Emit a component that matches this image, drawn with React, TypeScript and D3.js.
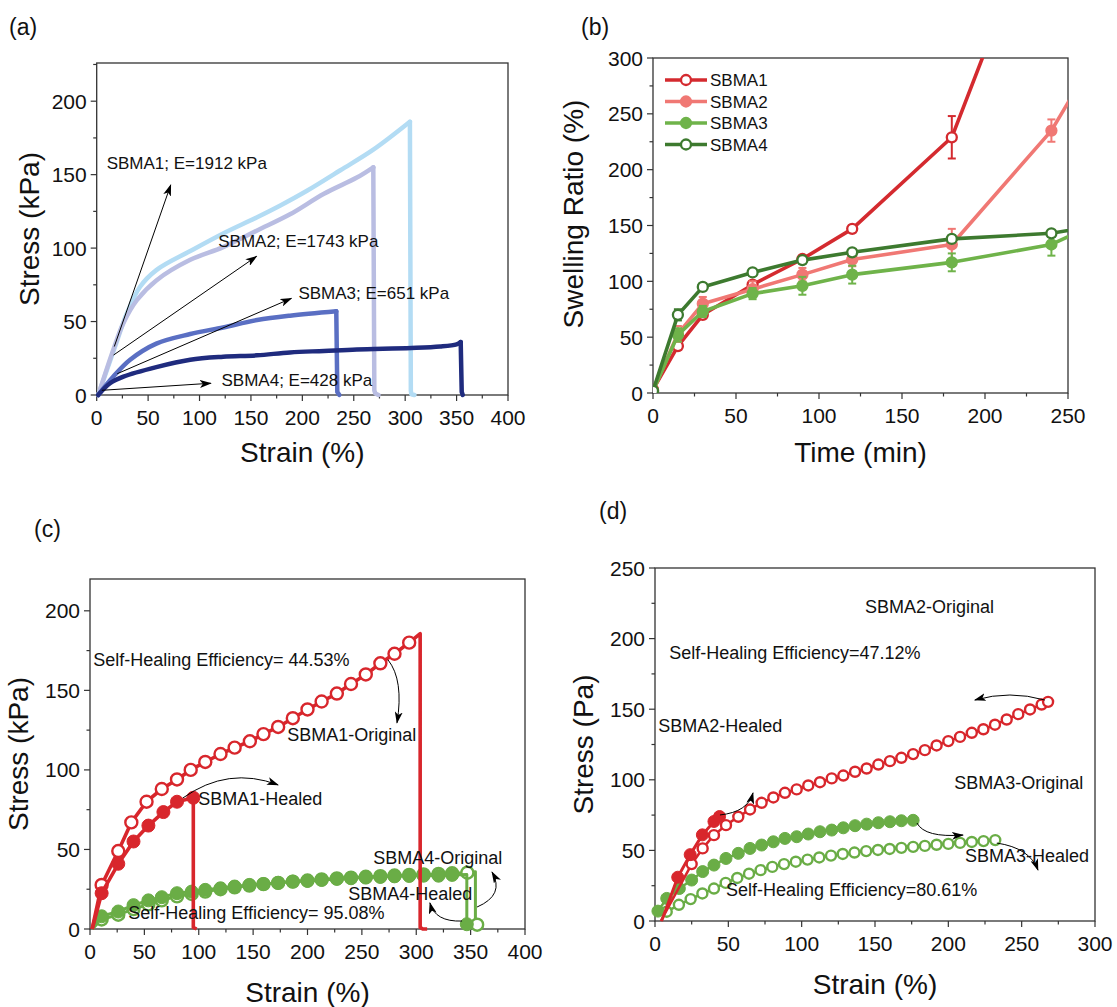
import React from "react";
import * as d3 from "d3";

const FONT = "'Liberation Sans', Arial, Helvetica, sans-serif";
type P = [number, number];
type PM = [number, number, number]; // x, y, marker flag

// ---------------- Panel (a): stress-strain ----------------
const aNames = ["SBMA1", "SBMA2", "SBMA3", "SBMA4"];
const aModulus = ["1912", "1743", "651", "428"];
const aS1Rise: P[] = [[1.5, 0], [17.9, 33], [29, 55], [42, 73.5], [58, 85], [91, 98], [123, 110], [156, 121], [178.6, 129], [204.5, 139], [237, 153], [269, 167], [304.6, 186]];
const aS1Drop: P[] = [[304.6, 186], [305.5, 3], [306, 0.5], [309, 0]];
const aS2Rise: P[] = [[1.5, 0], [16, 30.5], [26, 49], [39, 64.5], [58, 78], [91, 92], [123, 100.7], [156, 112], [188, 123], [221, 137], [253, 148], [269, 155]];
const aS2Drop: P[] = [[269, 155], [270, 3], [271, 1], [274, 0]];
const aS3Rise: P[] = [[1.5, 0], [16, 12.4], [32.5, 24], [58, 35], [91, 41.5], [123, 46], [156, 51], [188, 54], [233, 57]];
const aS3Drop: P[] = [[233, 57], [234, 2], [236, 0]];
const aS4Rise: P[] = [[1.5, 0], [13, 8], [26, 12.5], [58, 19], [91, 24], [123, 26], [156, 27], [188, 29], [221, 30], [253, 31], [306, 32], [334, 33], [350, 34.5], [354, 36]];
const aS4Drop: P[] = [[354, 36], [355, 2], [356, 0]];
const aColors = ["#b3dcf4", "#b9bde2", "#5a6fc3", "#1f2b7e"];
const aXTicks = [0, 50, 100, 150, 200, 250, 300, 350, 400];
const aYTicks = [0, 50, 100, 150, 200];

// ---------------- Panel (b): swelling ----------------
const bNames = ["SBMA1", "SBMA2", "SBMA3", "SBMA4"];
const bTime = [0, 15, 30, 60, 90, 120, 180, 240, 300];
const bS1 = [3, 42, 70, 97, 120, 147, 229, 460];
const bS1Err = [0, 3, 3, 3, 3, 3, 19, 0];
const bS2 = [2, 53, 80, 93, 106, 119.5, 133, 235, 384];
const bS2Err = [0, 7, 6, 7, 6, 6, 14, 10, 0];
const bS3 = [2, 52, 73, 89, 96, 106, 117, 133, 174];
const bS3Err = [0, 6, 5, 5, 8, 8, 8, 10, 0];
const bS4 = [2, 70, 95, 108, 119, 126, 138, 143, 158];
const bS4Err = [0, 5, 3, 3, 3, 3, 3, 3, 0];
const bColors = ["#d42a2f", "#f07874", "#6fb34a", "#3d7a2f"];
const bOpen = [true, false, false, true];
const bXTicks = [0, 50, 100, 150, 200, 250];
const bYTicks = [0, 50, 100, 150, 200, 250, 300];

// ---------------- Panel (c): SBMA1 / SBMA4 healing ----------------
const cS1Orig: PM[] = [[2, 0, 0], [10.7, 27.7, 1], [26, 49, 1], [38, 67, 1], [52, 80, 1], [66, 88, 1], [80, 94, 1], [92.6, 100, 1], [106, 105, 1], [120, 110, 1], [133, 114, 1], [147, 118, 1], [159.5, 122.5, 1], [173, 127, 1], [186.5, 132.5, 1], [200, 138, 1], [213, 143, 1], [227, 148, 1], [240, 154, 1], [253.6, 160, 1], [267, 167, 1], [280, 173, 1], [293.5, 180, 1], [303.6, 185.6, 0], [303.6, 1, 0], [306, 0, 0], [310, 0, 0]];
const cS1Heal: PM[] = [[2, 0, 0], [10.7, 22.5, 1], [26, 41, 1], [40, 55, 1], [53.7, 65, 1], [67.5, 73.5, 1], [80, 80, 1], [95, 82.5, 1], [95, 1, 0], [98, 0, 0]];
const cS4Orig: PM[] = [[2, 0, 0], [10.7, 6, 1], [26, 9, 1], [40, 12.5, 1], [53.7, 15.5, 1], [66, 18, 1], [80, 20.5, 1], [93.5, 22, 1], [106, 23.5, 1], [120, 25, 1], [133, 26.2, 1], [146.6, 27.3, 1], [159.5, 28.2, 1], [173, 29, 1], [186.5, 29.8, 1], [200, 30.5, 1], [213, 31.2, 1], [227, 31.8, 1], [240, 32.3, 1], [253.6, 32.8, 1], [267, 33.2, 1], [280, 33.6, 1], [293.5, 34, 1], [306.7, 34.3, 1], [320.5, 34.6, 1], [333, 35, 1], [347, 35.4, 1], [354.4, 36, 0], [354.4, 3, 0], [356, 2.7, 1]];
const cS4Heal: PM[] = [[2, 0, 0], [10.7, 8, 1], [26, 11, 1], [40, 15, 1], [53.7, 18, 1], [66, 20, 1], [80, 22.5, 1], [93.5, 23.5, 1], [106, 24.6, 1], [120, 25.6, 1], [133, 26.7, 1], [146.6, 27.7, 1], [159.5, 28.3, 1], [173, 29, 1], [186.5, 29.8, 1], [200, 30.2, 1], [213, 30.8, 1], [227, 31.5, 1], [240, 31.9, 1], [253.6, 32.3, 1], [267, 32.7, 1], [280, 33.1, 1], [293.5, 33.3, 1], [306.7, 33.5, 1], [320.5, 33.5, 1], [333, 34, 1], [346.5, 34.3, 0], [346.5, 3, 1]];
const cXTicks = [0, 50, 100, 150, 200, 250, 300, 350, 400];
const cYTicks = [0, 50, 100, 150, 200];

// ---------------- Panel (d): SBMA2 / SBMA3 healing ----------------
const dS2Orig: PM[] = [[4, 0, 0], [25, 40.3, 1], [32.5, 51.4, 1], [40.2, 60.8, 1], [48.4, 67.9, 1], [56.8, 73.8, 1], [64.8, 79, 1], [72.7, 83.7, 1], [80.7, 87.5, 1], [88.6, 90.8, 1], [96.6, 93.2, 1], [104.5, 96, 1], [112.5, 98.3, 1], [120.5, 101, 1], [128.4, 103, 1], [136.4, 105.7, 1], [144.3, 108, 1], [152.3, 110.8, 1], [160.2, 113.2, 1], [168, 115.6, 1], [176, 118.2, 1], [184, 121, 1], [192, 124.3, 1], [200, 127.4, 1], [208, 130.4, 1], [216, 133.3, 1], [223.9, 135.8, 1], [231.8, 139, 1], [239.8, 142.7, 1], [247.7, 146.5, 1], [255.7, 149.8, 1], [263.6, 153.3, 1], [268, 155.2, 1]];
const dS2Heal: PM[] = [[4.5, 0, 0], [15.5, 31, 1], [24, 47, 1], [32.3, 61, 1], [40.2, 70.5, 1], [44, 74, 1]];
const dS3Orig: PM[] = [[2, 7, 1], [8, 16, 1], [16.6, 23, 1], [25, 29, 1], [32.5, 35, 1], [40.2, 39.6, 1], [48.4, 44.3, 1], [56.8, 47.9, 1], [64.8, 51.4, 1], [72.7, 53.8, 1], [80.7, 56.1, 1], [88.6, 58.5, 1], [96.6, 59.7, 1], [104.5, 61.6, 1], [112.5, 63.2, 1], [120.5, 64.4, 1], [128.4, 66, 1], [136.4, 67.5, 1], [144.3, 68.6, 1], [152.3, 69.6, 1], [160.2, 70.3, 1], [168, 71, 1], [176, 71.3, 1]];
const dS3Heal: PM[] = [[8, 6.6, 1], [16.3, 11.5, 1], [24.3, 15.5, 1], [32.3, 19.5, 1], [40.2, 23, 1], [48.2, 27, 1], [56.1, 30.5, 1], [64.1, 33.5, 1], [72, 36, 1], [80, 38.3, 1], [88, 40.3, 1], [96, 42, 1], [104, 43.5, 1], [112, 45, 1], [120, 46.3, 1], [128, 47.5, 1], [136, 48.5, 1], [144, 49.5, 1], [152, 50.3, 1], [160, 51, 1], [168, 51.8, 1], [176, 52.5, 1], [184, 53.2, 1], [192, 54, 1], [200, 54.6, 1], [208, 55.3, 1], [216, 56, 1], [224, 56.6, 1], [232, 57.3, 1]];
const dXTicks = [0, 50, 100, 150, 200, 250, 300];
const dYTicks = [0, 50, 100, 150, 200, 250];

const RED = "#d8262c";
const GREEN = "#6aad46";
const AXIS = "#333333";

type Lin = d3.ScaleLinear<number, number>;

function Frame({ x, y, xTicks, yTicks, xMinor, yMinor }: { x: Lin; y: Lin; xTicks: number[]; yTicks: number[]; xMinor: number[]; yMinor: number[] }) {
  const [xa, xb] = x.range();
  const [ya, yb] = y.range();
  return (
    <g fontFamily={FONT} fill="#111">
      {xMinor.map((t) => (
        <line key={"xm" + t} x1={x(t)} x2={x(t)} y1={ya} y2={ya + 3.5} stroke={AXIS} strokeWidth={1.2} />
      ))}
      {yMinor.map((t) => (
        <line key={"ym" + t} x1={xa - 3.5} x2={xa} y1={y(t)} y2={y(t)} stroke={AXIS} strokeWidth={1.2} />
      ))}
      {xTicks.map((t) => (
        <g key={"xt" + t}>
          <line x1={x(t)} x2={x(t)} y1={ya} y2={ya + 6} stroke={AXIS} strokeWidth={1.2} />
          <text x={x(t)} y={ya + 30} textAnchor="middle" fontSize={21}>{t}</text>
        </g>
      ))}
      {yTicks.map((t) => (
        <g key={"yt" + t}>
          <line x1={xa - 6} x2={xa} y1={y(t)} y2={y(t)} stroke={AXIS} strokeWidth={1.2} />
          <text x={xa - 10} y={y(t) + 7.5} textAnchor="end" fontSize={21}>{t}</text>
        </g>
      ))}
      <rect x={xa} y={yb} width={xb - xa} height={ya - yb} fill="none" stroke={AXIS} strokeWidth={1.3} />
    </g>
  );
}

function minorOf(max: number) {
  return d3.range(25, max, 50);
}

export default function App() {
  const ax = d3.scaleLinear().domain([0, 400]).range([96.7, 508]);
  const ay = d3.scaleLinear().domain([0, 226]).range([395, 63]);
  const bx = d3.scaleLinear().domain([0, 250]).range([653, 1068]);
  const by = d3.scaleLinear().domain([0, 300]).range([393, 58]);
  const cx = d3.scaleLinear().domain([0, 400]).range([90, 525]);
  const cy = d3.scaleLinear().domain([0, 220]).range([929, 579]);
  const dx = d3.scaleLinear().domain([0, 300]).range([655, 1095]);
  const dy = d3.scaleLinear().domain([0, 250]).range([921, 568]);

  const lineOf = (sx: Lin, sy: Lin, curve?: d3.CurveFactory) => {
    const g = d3.line<number[]>().x((d) => sx(d[0])).y((d) => sy(d[1]));
    if (curve) g.curve(curve);
    return g;
  };

  const aRise = [aS1Rise, aS2Rise, aS3Rise, aS4Rise];
  const aDrop = [aS1Drop, aS2Drop, aS3Drop, aS4Drop];
  const aLineC = lineOf(ax, ay, d3.curveCatmullRom.alpha(0.5));
  const aLineL = lineOf(ax, ay);

  const bVals = [bS1, bS2, bS3, bS4];
  const bErrs = [bS1Err, bS2Err, bS3Err, bS4Err];
  const bLine = lineOf(bx, by);

  const cLine = lineOf(cx, cy);
  const dLine = lineOf(dx, dy);

  const arrowPath = (sx: Lin, sy: Lin, p: number[]) =>
    p.length === 4
      ? `M${sx(p[0])},${sy(p[1])}L${sx(p[2])},${sy(p[3])}`
      : `M${sx(p[0])},${sy(p[1])}Q${sx(p[2])},${sy(p[3])} ${sx(p[4])},${sy(p[5])}`;

  const aArrows = [
    [17.1, 33, 72, 143],
    [16.4, 27.2, 155.5, 94.4],
    [20, 14.5, 189.3, 65.8],
    [5, 3.2, 111, 8],
  ];
  const aLabelPos = [
    [9.7, 157.8],
    [118.2, 104.8],
    [196.2, 69.2],
    [121.4, 10.2],
  ];

  const cArrows = [
    [274, 169.2, 288.7, 156.6, 282.3, 129.6],
    [85.5, 82.4, 126.9, 102.5, 172.9, 90.6],
    [355.9, 13.8, 381.6, 21.4, 369.7, 35.8],
    [342.1, 5, 317.2, 4.4, 312.6, 16.4],
  ];
  const dArrows = [
    [265.8, 156.5, 242, 163.6, 218.1, 156.5],
    [44.3, 75.1, 63.4, 77.2, 66.8, 90.7],
    [178.6, 69.4, 184, 58.8, 210, 60.9],
    [233.1, 55.2, 255.6, 51.7, 261.1, 36.1],
  ];

  const circles = (data: PM[], sx: Lin, sy: Lin, color: string, open: boolean, r: number, key: string) =>
    data
      .filter((d) => d[2] === 1)
      .map((d, i) => (
        <circle
          key={key + i}
          cx={sx(d[0])}
          cy={sy(d[1])}
          r={r}
          fill={open ? "#fff" : color}
          stroke={color}
          strokeWidth={open ? 2.4 : 1}
        />
      ));

  const txt = (x: number, y: number, s: string, size = 18) => (
    <text x={x} y={y} fontSize={size} dominantBaseline="central" fontFamily={FONT} fill="#111">
      {s}
    </text>
  );

  const [bxa, bxb] = bx.range();
  const [bya, byb] = by.range();

  return (
    <svg width={1117} height={1007} style={{ position: "absolute", left: 0, top: 0, background: "#fff" }} fontFamily={FONT}>
      <defs>
        <marker id="arr" viewBox="0 0 12 8" refX={11} refY={4} markerWidth={12} markerHeight={8} markerUnits="userSpaceOnUse" orient="auto">
          <path d="M0,0 L12,4 L0,8 L3,4 z" fill="#000" />
        </marker>
        <clipPath id="clipB">
          <rect x={bxa} y={byb} width={bxb - bxa} height={bya - byb} />
        </clipPath>
      </defs>

      {/* panel labels */}
      <text x={9} y={35} fontSize={23} fill="#111">(a)</text>
      <text x={581} y={35} fontSize={23} fill="#111">(b)</text>
      <text x={34} y={537} fontSize={23} fill="#111">(c)</text>
      <text x={599} y={519} fontSize={23} fill="#111">(d)</text>

      {/* ============ (a) ============ */}
      <Frame x={ax} y={ay} xTicks={aXTicks} yTicks={aYTicks} xMinor={minorOf(400)} yMinor={minorOf(226)} />
      {aNames.map((n, i) => (
        <g key={"a" + n} fill="none" stroke={aColors[i]} strokeWidth={4.5} strokeLinejoin="round" strokeLinecap="round">
          <path d={aLineC(aRise[i]) || ""} />
          <path d={aLineL(aDrop[i]) || ""} />
        </g>
      ))}
      {aArrows.map((p, i) => (
        <path key={"aa" + i} d={arrowPath(ax, ay, p)} stroke="#000" strokeWidth={1} fill="none" markerEnd="url(#arr)" />
      ))}
      {aNames.map((n, i) => (
        <g key={"al" + n}>{txt(ax(aLabelPos[i][0]), ay(aLabelPos[i][1]), `${n}; E=${aModulus[i]} kPa`, 17)}</g>
      ))}
      <text x={(ax.range()[0] + ax.range()[1]) / 2} y={462} textAnchor="middle" fontSize={28} fill="#111">Strain (%)</text>
      <text transform={`translate(38.5,${(ay.range()[0] + ay.range()[1]) / 2}) rotate(-90)`} textAnchor="middle" fontSize={28} fill="#111">Stress (kPa)</text>

      {/* ============ (b) ============ */}
      <Frame x={bx} y={by} xTicks={bXTicks} yTicks={bYTicks} xMinor={minorOf(250)} yMinor={minorOf(300)} />
      <g clipPath="url(#clipB)">
        {bNames.map((n, i) => {
          const pts = bVals[i].map((v, k) => [bTime[k], v]);
          return (
            <g key={"b" + n}>
              <path d={bLine(pts) || ""} fill="none" stroke={bColors[i]} strokeWidth={3.6} strokeLinejoin="round" />
              {bVals[i].map((v, k) =>
                bErrs[i][k] > 0 ? (
                  <g key={"e" + k} stroke={bColors[i]} strokeWidth={2}>
                    <line x1={bx(bTime[k])} x2={bx(bTime[k])} y1={by(v - bErrs[i][k])} y2={by(v + bErrs[i][k])} />
                    <line x1={bx(bTime[k]) - 4} x2={bx(bTime[k]) + 4} y1={by(v - bErrs[i][k])} y2={by(v - bErrs[i][k])} />
                    <line x1={bx(bTime[k]) - 4} x2={bx(bTime[k]) + 4} y1={by(v + bErrs[i][k])} y2={by(v + bErrs[i][k])} />
                  </g>
                ) : null
              )}
              {bVals[i].map((v, k) => (
                <circle key={"m" + k} cx={bx(bTime[k])} cy={by(v)} r={5} fill={bOpen[i] ? "#fff" : bColors[i]} stroke={bColors[i]} strokeWidth={2.3} />
              ))}
            </g>
          );
        })}
      </g>
      {bNames.map((n, i) => {
        const yy = byb + 22 + i * 21.5;
        const x0 = bxa + 12;
        return (
          <g key={"lg" + n}>
            <line x1={x0} x2={x0 + 42} y1={yy} y2={yy} stroke={bColors[i]} strokeWidth={3.6} />
            <circle cx={x0 + 21} cy={yy} r={5} fill={bOpen[i] ? "#fff" : bColors[i]} stroke={bColors[i]} strokeWidth={2.3} />
            <text x={x0 + 45} y={yy + 6} fontSize={17} fill="#111">{n}</text>
          </g>
        );
      })}
      <text x={(bxa + bxb) / 2} y={462} textAnchor="middle" fontSize={28} fill="#111">Time (min)</text>
      <text transform={`translate(583,214) rotate(-90)`} textAnchor="middle" fontSize={28} fill="#111">Swelling Ratio (%)</text>

      {/* ============ (c) ============ */}
      <Frame x={cx} y={cy} xTicks={cXTicks} yTicks={cYTicks} xMinor={minorOf(400)} yMinor={minorOf(220)} />
      <path d={cLine(cS4Orig) || ""} fill="none" stroke={GREEN} strokeWidth={3} strokeLinejoin="round" />
      {circles(cS4Orig, cx, cy, GREEN, true, 6, "c4o")}
      <path d={cLine(cS4Heal) || ""} fill="none" stroke={GREEN} strokeWidth={3} strokeLinejoin="round" />
      {circles(cS4Heal, cx, cy, GREEN, false, 6.5, "c4h")}
      <path d={cLine(cS1Orig) || ""} fill="none" stroke={RED} strokeWidth={3.6} strokeLinejoin="round" />
      {circles(cS1Orig, cx, cy, RED, true, 6, "c1o")}
      <path d={cLine(cS1Heal) || ""} fill="none" stroke={RED} strokeWidth={3.6} strokeLinejoin="round" />
      {circles(cS1Heal, cx, cy, RED, false, 6.5, "c1h")}
      {cArrows.map((p, i) => (
        <path key={"ca" + i} d={arrowPath(cx, cy, p)} stroke="#000" strokeWidth={1} fill="none" markerEnd="url(#arr)" />
      ))}
      {txt(cx(3), cy(169.2), "Self-Healing Efficiency= 44.53%")}
      {txt(cx(181.4), cy(122), "SBMA1-Original")}
      {txt(cx(99.6), cy(81.8), "SBMA1-Healed")}
      {txt(cx(260.5), cy(44.8), "SBMA4-Original")}
      {txt(cx(237.5), cy(22), "SBMA4-Healed")}
      {txt(cx(35.2), cy(9.9), "Self-Healing Efficiency= 95.08%")}
      <text x={(cx.range()[0] + cx.range()[1]) / 2} y={1002} textAnchor="middle" fontSize={28} fill="#111">Strain (%)</text>
      <text transform={`translate(27.5,${(cy.range()[0] + cy.range()[1]) / 2}) rotate(-90)`} textAnchor="middle" fontSize={28} fill="#111">Stress (kPa)</text>

      {/* ============ (d) ============ */}
      <Frame x={dx} y={dy} xTicks={dXTicks} yTicks={dYTicks} xMinor={minorOf(300)} yMinor={minorOf(250)} />
      <path d={dLine(dS3Heal) || ""} fill="none" stroke={GREEN} strokeWidth={2.6} strokeLinejoin="round" />
      {circles(dS3Heal, dx, dy, GREEN, true, 5, "d3h")}
      <path d={dLine(dS3Orig) || ""} fill="none" stroke={GREEN} strokeWidth={2.6} strokeLinejoin="round" />
      {circles(dS3Orig, dx, dy, GREEN, false, 6, "d3o")}
      <path d={dLine(dS2Orig) || ""} fill="none" stroke={RED} strokeWidth={2.6} strokeLinejoin="round" />
      {circles(dS2Orig, dx, dy, RED, true, 5, "d2o")}
      <path d={dLine(dS2Heal) || ""} fill="none" stroke={RED} strokeWidth={3} strokeLinejoin="round" />
      {circles(dS2Heal, dx, dy, RED, false, 6, "d2h")}
      {dArrows.map((p, i) => (
        <path key={"da" + i} d={arrowPath(dx, dy, p)} stroke="#000" strokeWidth={1} fill="none" markerEnd="url(#arr)" />
      ))}
      {txt(dx(143.1), dy(222.6), "SBMA2-Original")}
      {txt(dx(9.7), dy(190), "Self-Healing Efficiency=47.12%")}
      {txt(dx(2.2), dy(138.1), "SBMA2-Healed")}
      {txt(dx(204), dy(97.9), "SBMA3-Original")}
      {txt(dx(211.3), dy(46), "SBMA3-Healed")}
      {txt(dx(48.4), dy(22), "Self-Healing Efficiency=80.61%")}
      <text x={(dx.range()[0] + dx.range()[1]) / 2} y={994} textAnchor="middle" fontSize={28} fill="#111">Strain (%)</text>
      <text transform={`translate(592.5,${(dy.range()[0] + dy.range()[1]) / 2}) rotate(-90)`} textAnchor="middle" fontSize={28} fill="#111">Stress (Pa)</text>
    </svg>
  );
}
